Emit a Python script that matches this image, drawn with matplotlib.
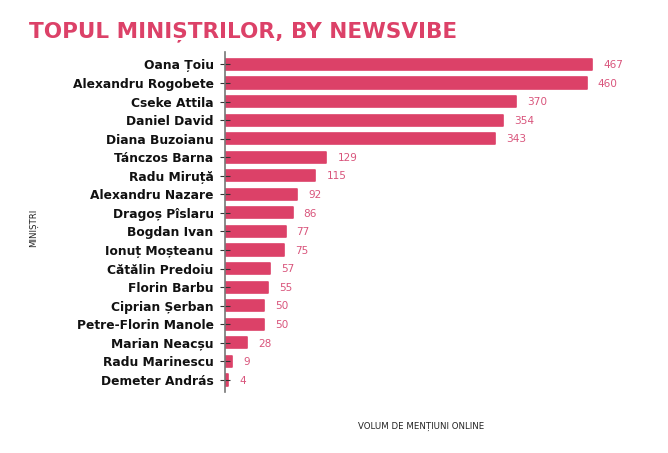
import matplotlib
matplotlib.use("Agg")
import matplotlib.pyplot as plt

names = ["Oana Țoiu", "Alexandru Rogobete", "Cseke Attila", "Daniel David",
         "Diana Buzoianu", "Tánczos Barna", "Radu Miruță", "Alexandru Nazare",
         "Dragoș Pîslaru", "Bogdan Ivan", "Ionuț Moșteanu", "Cătălin Predoiu",
         "Florin Barbu", "Ciprian Șerban", "Petre-Florin Manole", "Marian Neacșu",
         "Radu Marinescu", "Demeter András"]
mentions = [467, 460, 370, 354, 343, 129, 115, 92, 86, 77, 75, 57, 55, 50, 50, 28, 9, 4]

pink = "#DC4168"
label_pink = "#D9557C"

fig = plt.figure(figsize=(6.68, 4.53), dpi=100)
ax = fig.add_axes([225 / 668, 1 - 392 / 453, 415 / 668, 340 / 453])

# thick round-joined edge gives the slightly rounded bar corners
ax.barh(range(len(names)), mentions, height=0.6, color=pink, edgecolor=pink, linewidth=1.2,
        joinstyle="round")
ax.set_xlim(0, 528)
ax.set_ylim(17.65, -0.67)

# value labels next to each bar
for i, v in enumerate(mentions):
    ax.annotate(str(v), (v, i), xytext=(8, -0.5), textcoords="offset points", va="center",
                ha="left", fontsize=7.6, color=label_pink)

ax.set_yticks(range(len(names)))
ax.set_yticklabels(names, fontsize=8.8, fontweight="bold", color="#111111")
ax.tick_params(axis="y", direction="inout", length=7.5, width=0.8, color="#333333", pad=4.5)
ax.set_xticks([])
ax.set_axisbelow(False)  # ticks sit on top of the bars

for side in ["top", "right", "bottom"]:
    ax.spines[side].set_visible(False)
ax.spines["left"].set_color("#777777")
ax.spines["left"].set_linewidth(1.2)
ax.spines["left"].set_zorder(5)

fig.text(29 / 668, 1 - 32 / 453, "TOPUL MINIȘTRILOR, BY NEWSVIBE", fontsize=15.5, fontweight="bold",
         color=pink, va="center", ha="left")
fig.text(34 / 668, 1 - 228 / 453, "MINIȘTRI", fontsize=6.2, rotation=90, va="center", ha="center",
         color="#222222")
fig.text(421 / 668, 1 - 426 / 453, "VOLUM DE MENȚIUNI ONLINE", fontsize=6.2, va="center", ha="center",
         color="#222222")

fig.savefig("out.png", dpi=100)
